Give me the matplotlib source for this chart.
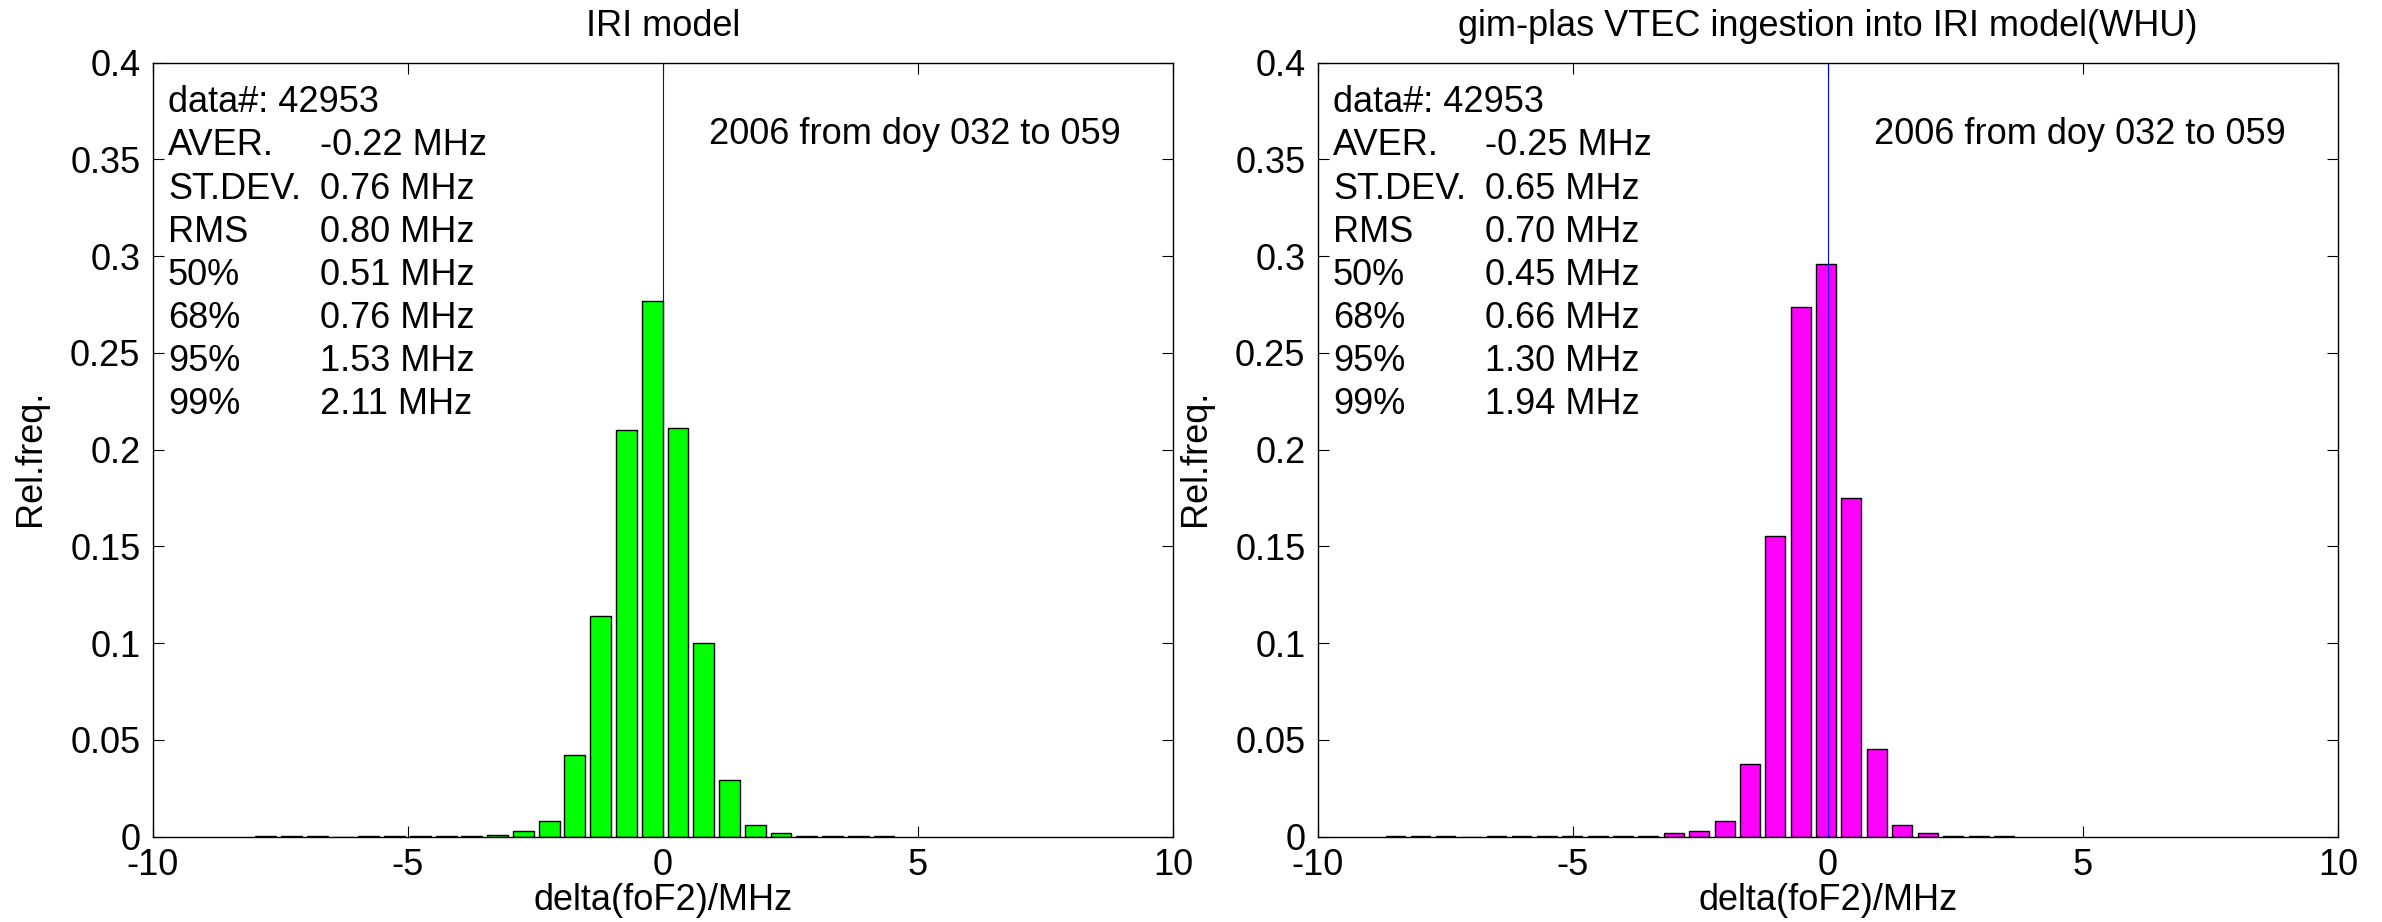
import matplotlib
matplotlib.use('Agg')
import matplotlib.pyplot as plt
from matplotlib.ticker import FuncFormatter

plt.rcParams['font.family'] = ['Liberation Sans', 'DejaVu Sans']
plt.rcParams['font.size'] = 26

# bin centres (MHz) and relative frequency
iri_centers = [-7.785, -7.28, -6.775, -6.27, -5.765, -5.26, -4.755, -4.25, -3.745, -3.24,
               -2.735, -2.23, -1.725, -1.22, -0.715, -0.21, 0.295, 0.80, 1.305, 1.81,
               2.315, 2.82, 3.325, 3.83, 4.335]
iri_freq = [0.0003, 0.0003, 0.0003, 0.0, 0.0003, 0.0003, 0.0003, 0.0003, 0.0003, 0.0008,
            0.0029, 0.0079, 0.0424, 0.114, 0.210, 0.2767, 0.2111, 0.0999, 0.0293, 0.0059,
            0.0019, 0.0003, 0.0003, 0.0003, 0.0003]

gim_centers = [-8.48, -7.99, -7.50, -7.00, -6.50, -6.01, -5.51, -5.01, -4.51, -4.01,
               -3.52, -3.02, -2.52, -2.02, -1.52, -1.03, -0.53, -0.04, 0.46, 0.96,
               1.46, 1.96, 2.46, 2.96, 3.46]
gim_freq = [0.0003, 0.0003, 0.0003, 0.0, 0.0003, 0.0003, 0.0003, 0.0003, 0.0003, 0.0003,
            0.0003, 0.002, 0.0029, 0.0079, 0.0374, 0.1556, 0.2736, 0.2959, 0.1749, 0.0453,
            0.0059, 0.0019, 0.0004, 0.0003, 0.0003]

stat_names = ['AVER.', 'ST.DEV.', 'RMS', '50%', '68%', '95%', '99%']
iri_stats = ['-0.22 MHz', '0.76 MHz', '0.80 MHz', '0.51 MHz', '0.76 MHz', '1.53 MHz', '2.11 MHz']
gim_stats = ['-0.25 MHz', '0.65 MHz', '0.70 MHz', '0.45 MHz', '0.66 MHz', '1.30 MHz', '1.94 MHz']
n_data = 42953
period = '2006 from doy 032 to 059'

titles = ['IRI model', 'gim-plas VTEC ingestion into IRI model(WHU)']


def fmt(v, pos):
	s = ('%.2f' % v).rstrip('0').rstrip('.')
	if s == '-0':
		s = '0'
	return s


def panel(ax, centers, freq, width, color, stats, title):
	ax.bar(centers, freq, width=width, color=color, edgecolor='black', linewidth=1.0, zorder=2)
	ax.plot([0, 0], [0, 0.4], color='#0000ff', linewidth=0.8, zorder=3)
	ax.set_xlim(-10, 10)
	ax.set_ylim(0, 0.4)
	ax.set_xticks([-10, -5, 0, 5, 10])
	ax.set_yticks([0, 0.05, 0.1, 0.15, 0.2, 0.25, 0.3, 0.35, 0.4])
	ax.xaxis.set_major_formatter(FuncFormatter(fmt))
	ax.yaxis.set_major_formatter(FuncFormatter(fmt))
	ax.tick_params(direction='in', length=8, width=0.8, top=True, right=True, pad=9)
	ax.tick_params(axis='x', pad=8)
	for sp in ax.spines.values():
		sp.set_linewidth(1.0)
	ax.set_xlabel('delta(foF2)/MHz', labelpad=0)
	ax.set_ylabel('Rel.freq.', va='center')
	ax.yaxis.set_label_coords(-0.12, 0.49)
	ax.set_title(title, fontsize=26, pad=19)
	ax.text(0.0147, 0.948, 'data#: %d' % n_data, transform=ax.transAxes, va='center')
	for i in range(len(stat_names)):
		y = 0.948 - 0.0556 * (i + 1)
		ax.text(0.0147, y, stat_names[i], transform=ax.transAxes, va='center')
		ax.text(0.1637, y, stats[i], transform=ax.transAxes, va='center')
	ax.text(0.545, 0.9066, period, transform=ax.transAxes, va='center')


fig = plt.figure(figsize=(23.82, 9.22), dpi=100)
ax1 = fig.add_axes([0.0642, 0.0925, 0.4282, 0.8395])
ax2 = fig.add_axes([0.5533, 0.0925, 0.4282, 0.8395])
panel(ax1, iri_centers, iri_freq, 0.41, '#00ff00', iri_stats, titles[0])
panel(ax2, gim_centers, gim_freq, 0.39, '#ff00ff', gim_stats, titles[1])

fig.savefig('out.png', dpi=100)
